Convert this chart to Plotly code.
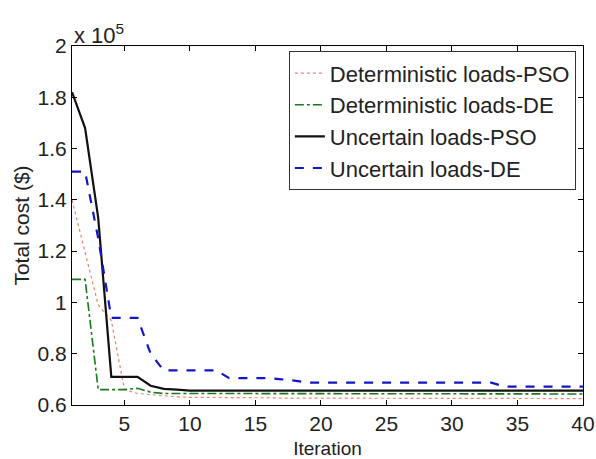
import plotly.graph_objects as go

# Iterations
iterations = list(range(1, 41))

# Total cost in units of 1e5 $
det_pso = [1.40, 1.20, 0.99, 0.93, 0.66, 0.645, 0.64, 0.635, 0.632, 0.63,
           0.63, 0.63, 0.628, 0.628, 0.628, 0.628, 0.627, 0.627, 0.627, 0.627,
           0.627, 0.627, 0.626, 0.626, 0.626, 0.626, 0.626, 0.626, 0.626, 0.626,
           0.625, 0.625, 0.625, 0.625, 0.625, 0.625, 0.625, 0.625, 0.625, 0.625]
det_de = [1.09, 1.09, 0.66, 0.66, 0.66, 0.665, 0.65, 0.645, 0.645, 0.645,
          0.645, 0.645, 0.645, 0.645, 0.645, 0.645, 0.645, 0.645, 0.645, 0.645,
          0.645, 0.645, 0.645, 0.645, 0.645, 0.644, 0.644, 0.644, 0.644, 0.644,
          0.644, 0.644, 0.644, 0.643, 0.643, 0.643, 0.643, 0.643, 0.643, 0.643]
unc_pso = [1.82, 1.68, 1.33, 0.71, 0.71, 0.71, 0.675, 0.663, 0.66, 0.656,
           0.656, 0.656, 0.656, 0.656, 0.656, 0.656, 0.656, 0.656, 0.656, 0.656,
           0.656, 0.656, 0.656, 0.656, 0.656, 0.656, 0.656, 0.656, 0.656, 0.656,
           0.656, 0.656, 0.656, 0.656, 0.656, 0.656, 0.656, 0.656, 0.656, 0.656]
unc_de = [1.51, 1.51, 1.25, 0.94, 0.94, 0.94, 0.80, 0.735, 0.735, 0.735,
          0.735, 0.735, 0.705, 0.705, 0.705, 0.705, 0.70, 0.695, 0.687, 0.687,
          0.687, 0.687, 0.687, 0.687, 0.687, 0.687, 0.687, 0.687, 0.687, 0.687,
          0.687, 0.687, 0.687, 0.672, 0.672, 0.672, 0.672, 0.672, 0.672, 0.672]

y_ticks = [0.6, 0.8, 1.0, 1.2, 1.4, 1.6, 1.8, 2.0]
y_tick_text = ["0.6", "0.8", "1", "1.2", "1.4", "1.6", "1.8", "2"]
x_ticks = [5, 10, 15, 20, 25, 30, 35, 40]

series = [
    ("Deterministic loads-PSO", det_pso, dict(color="#f08070", width=1.2, dash="dot")),
    ("Deterministic loads-DE", det_de, dict(color="#1a7a1a", width=1.6, dash="dashdot")),
    ("Uncertain loads-PSO", unc_pso, dict(color="#111111", width=2.2, dash="solid")),
    ("Uncertain loads-DE", unc_de, dict(color="#1515c8", width=2.2, dash="dash")),
]

fig = go.Figure()
for i, (name, vals, line) in enumerate(series):
    fig.add_trace(go.Scatter(x=iterations, y=vals, mode="lines", name=name,
                             line=line, legendgroup=f"g{i}"))

FONT = "Liberation Sans, Arial"
axis_common = dict(showline=True, linecolor="black", linewidth=1, mirror="ticks",
                   ticks="inside", ticklen=5, tickcolor="black", showgrid=False,
                   zeroline=False, automargin=False,
                   tickfont=dict(family=FONT, size=21, color="#222"))

fig.update_layout(
    width=596, height=459,
    margin=dict(l=72, r=13, t=46, b=54),
    paper_bgcolor="white", plot_bgcolor="white",
    font=dict(family=FONT, color="#222"),
    xaxis=dict(range=[1, 40], tickvals=x_ticks,
               title=dict(text="Iteration", font=dict(size=19), standoff=10),
               **axis_common),
    yaxis=dict(range=[0.6, 2.0], tickvals=y_ticks, ticktext=y_tick_text,
               title=dict(text="Total cost ($)", font=dict(size=21), standoff=2),
               **axis_common),
    legend=dict(x=0.986, y=0.985, xanchor="right", yanchor="top",
                bordercolor="#333", borderwidth=1, bgcolor="white",
                font=dict(size=22, color="#222"), tracegroupgap=0,
                traceorder="grouped"),
    showlegend=True,
)

fig.add_annotation(text="x 10<sup>5</sup>", xref="paper", yref="paper",
                   x=0.0, y=1.0, xanchor="left", yanchor="bottom", showarrow=False,
                   font=dict(size=22, color="#222"), yshift=-4)

fig.write_html("out.html")
